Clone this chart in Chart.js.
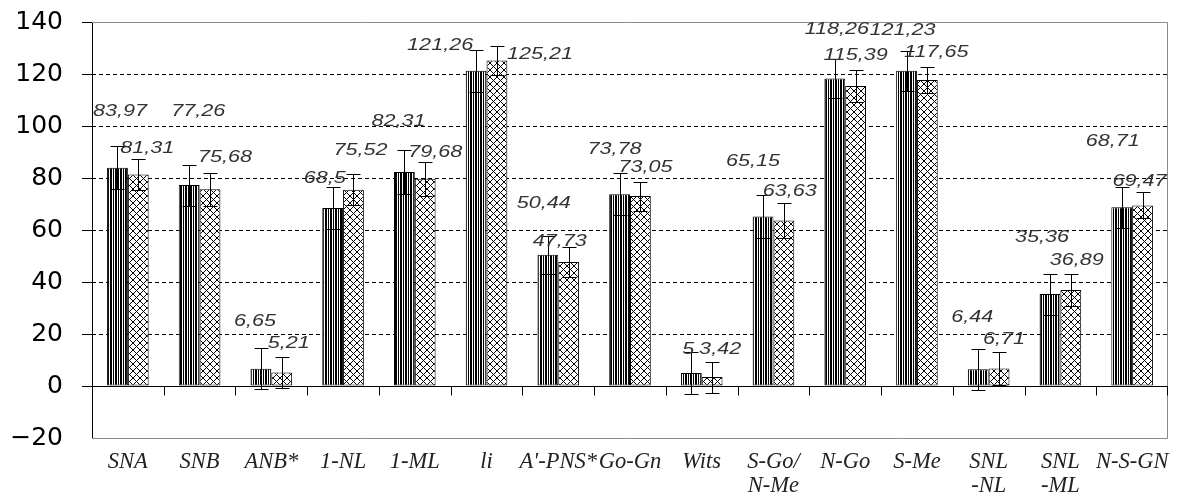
<!DOCTYPE html>
<html><head><meta charset="utf-8">
<script src="https://cdn.jsdelivr.net/npm/chart.js@4.4.1/dist/chart.umd.min.js"></script>
<style>html,body{margin:0;padding:0;background:#fff;}#wrap{width:1190px;height:497px;}</style>
</head><body><div id="wrap"><canvas id="c" width="1190" height="497"></canvas></div>
<script>
const categories = ["SNA","SNB","ANB*","1-NL","1-ML","li","A'-PNS*","Go-Gn","Wits",["S-Go/","N-Me"],"N-Go","S-Me",["SNL","-NL"],["SNL","-ML"],"N-S-GN"];
const seriesA = [83.97,77.26,6.65,68.5,82.31,121.26,50.44,73.78,5,65.15,118.26,121.23,6.44,35.36,68.71];
const seriesB = [81.31,75.68,5.21,75.52,79.68,125.21,47.73,73.05,3.42,63.63,115.39,117.65,6.71,36.89,69.47];
const errorsA = [8.3,7.9,7.8,8,8.6,8,7.3,8.1,8.2,8.2,7.6,7.6,7.9,7.9,7.9];
const errorsB = [6,6.3,5.8,6,6.5,5.5,5.8,5.6,6,6.8,6,5,6.3,6.3,5];
const yTickValues = [-20,0,20,40,60,80,100,120,140];
// label placement offsets (px) relative to bar centre / bar top
const labelOffsetsA = [[2.5,-56],[9,-74],[-6,-47],[-8,-30],[-6,-51],[-36,-25],[-4,-52],[-5,-45],[-3,-24],[-10,-55],[2,-49],[-4,-41],[-6,-52],[-8,-57],[-9,-66]];
const labelOffsetsB = [[9,-26.5],[15,-31.5],[7,-29.5],[7,-39],[10,-27],[43,-6],[-9,-21],[5,-29],[8,-28],[6,-29],[0,-31],[9,-28],[5,-29],[6,-30],[-3,-24]];

function makeStripe(){
  const c=document.createElement('canvas'); c.width=5; c.height=5;
  const g=c.getContext('2d'); g.fillStyle='#fff'; g.fillRect(0,0,5,5);
  g.fillStyle='#000'; g.fillRect(0,0,2,5); g.fillRect(3,0,1,5);
  return g.createPattern(c,'repeat');
}
function makeCross(){
  const s=7; const c=document.createElement('canvas'); c.width=s; c.height=s;
  const g=c.getContext('2d'); g.fillStyle='#fff'; g.fillRect(0,0,s,s);
  g.strokeStyle='#000'; g.lineWidth=1;
  g.beginPath(); g.moveTo(0,0); g.lineTo(s,s); g.moveTo(s,0); g.lineTo(0,s); g.stroke();
  return g.createPattern(c,'repeat');
}
const fmt = v => String(v).replace('.', ',');

const decor = {
  id:'decor',
  beforeDatasetsDraw(chart){
    const {ctx, chartArea:a, scales:{y}} = chart;
    ctx.save();
    ctx.strokeStyle='#000'; ctx.lineWidth=1; ctx.setLineDash([4,3]);
    y.ticks.forEach(t=>{
      if(t.value>0 && t.value<140){
        const py=Math.round(y.getPixelForValue(t.value))+0.5;
        ctx.beginPath(); ctx.moveTo(a.left,py); ctx.lineTo(a.right,py); ctx.stroke();
      }
    });
    ctx.setLineDash([]);
    ctx.strokeStyle='#8a8a8a';
    const top=Math.round(y.getPixelForValue(140))+0.5, bot=Math.round(y.getPixelForValue(-20))+0.5, r=Math.round(a.right)-0.5;
    ctx.beginPath(); ctx.moveTo(a.left,top); ctx.lineTo(r,top); ctx.lineTo(r,bot); ctx.lineTo(a.left,bot); ctx.stroke();
    ctx.restore();
  },
  afterDatasetsDraw(chart){
    const {ctx, chartArea:a, scales:{x,y}} = chart;
    ctx.save();
    const y0=Math.round(y.getPixelForValue(0))+0.5;
    ctx.strokeStyle='#000'; ctx.lineWidth=1;
    ctx.beginPath(); ctx.moveTo(a.left,y0); ctx.lineTo(a.right,y0);
    for(let i=0;i<categories.length;i++){
      let px=Math.round(x.getPixelForValue(i+0.5))+0.5;
      if(i===categories.length-1) px=Math.round(a.right)-0.5;
      ctx.moveTo(px,y0); ctx.lineTo(px,y0+9);
    }
    ctx.stroke();
    const errs=[errorsA,errorsB], vals=[seriesA,seriesB], offs=[labelOffsetsA,labelOffsetsB];
    [0,1].forEach(d=>{
      const meta=chart.getDatasetMeta(d);
      meta.data.forEach((el,i)=>{
        const v=vals[d][i], e=errs[d][i];
        const cx=Math.round(el.x)+0.5;
        const yt=Math.round(y.getPixelForValue(v+e))+0.5, yb=Math.round(y.getPixelForValue(v-e))+0.5;
        ctx.beginPath();
        ctx.moveTo(cx,yt); ctx.lineTo(cx,yb);
        ctx.moveTo(cx-7,yt); ctx.lineTo(cx+7,yt);
        ctx.moveTo(cx-7,yb); ctx.lineTo(cx+7,yb);
        ctx.stroke();
      });
    });
    ctx.font='italic 17px "Liberation Sans", Arial, sans-serif';
    ctx.fillStyle='#333'; ctx.textAlign='center'; ctx.textBaseline='middle';
    [0,1].forEach(d=>{
      const meta=chart.getDatasetMeta(d);
      meta.data.forEach((el,i)=>{
        const v=vals[d][i], o=offs[d][i];
        const px=el.x+o[0], py=y.getPixelForValue(v)+o[1];
        ctx.save(); ctx.translate(px,py); ctx.scale(1.27,1); ctx.fillText(fmt(v),0,0); ctx.restore();
      });
    });
    ctx.restore();
  }
};

new Chart(document.getElementById('c'), {
  type:'bar',
  data:{
    labels:categories,
    datasets:[
      {data:seriesA, backgroundColor:makeStripe(), borderColor:'#000', borderWidth:1, borderSkipped:false, categoryPercentage:0.58, barPercentage:1.0},
      {data:seriesB, backgroundColor:makeCross(), borderColor:'#000', borderWidth:1, borderSkipped:false, categoryPercentage:0.58, barPercentage:1.0}
    ]
  },
  options:{
    responsive:false, animation:false,
    layout:{padding:{top:22, right:22, left:0, bottom:0}},
    plugins:{legend:{display:false}, tooltip:{enabled:false}},
    scales:{
      x:{
        grid:{display:false, drawTicks:false},
        border:{display:false},
        ticks:{font:{family:'"Liberation Serif", "Times New Roman", serif', style:'italic', size:22.5, lineHeight:1.06}, color:'#222', padding:12, maxRotation:0, autoSkip:false},
        afterFit(s){ s.height=59; s.paddingLeft=0; s.paddingRight=0; }
      },
      y:{
        min:-20, max:140,
        afterBuildTicks(s){ s.ticks = yTickValues.map(v=>({value:v})); },
        grid:{display:true, drawOnChartArea:false, drawTicks:true, tickLength:10, tickColor:c=>c.tick && c.tick.value===-20?'rgba(0,0,0,0)':'#000'},
        border:{display:true, color:'#000', width:1},
        ticks:{font:{family:'"DejaVu Sans", sans-serif', size:25}, color:'#000', padding:19,
          callback:v=> v<0 ? '\u2212'+Math.abs(v) : String(v)},
        afterFit(s){ s.width=92; s.paddingTop=0; s.paddingBottom=0; }
      }
    }
  },
  plugins:[decor]
});
</script>
</body></html>
